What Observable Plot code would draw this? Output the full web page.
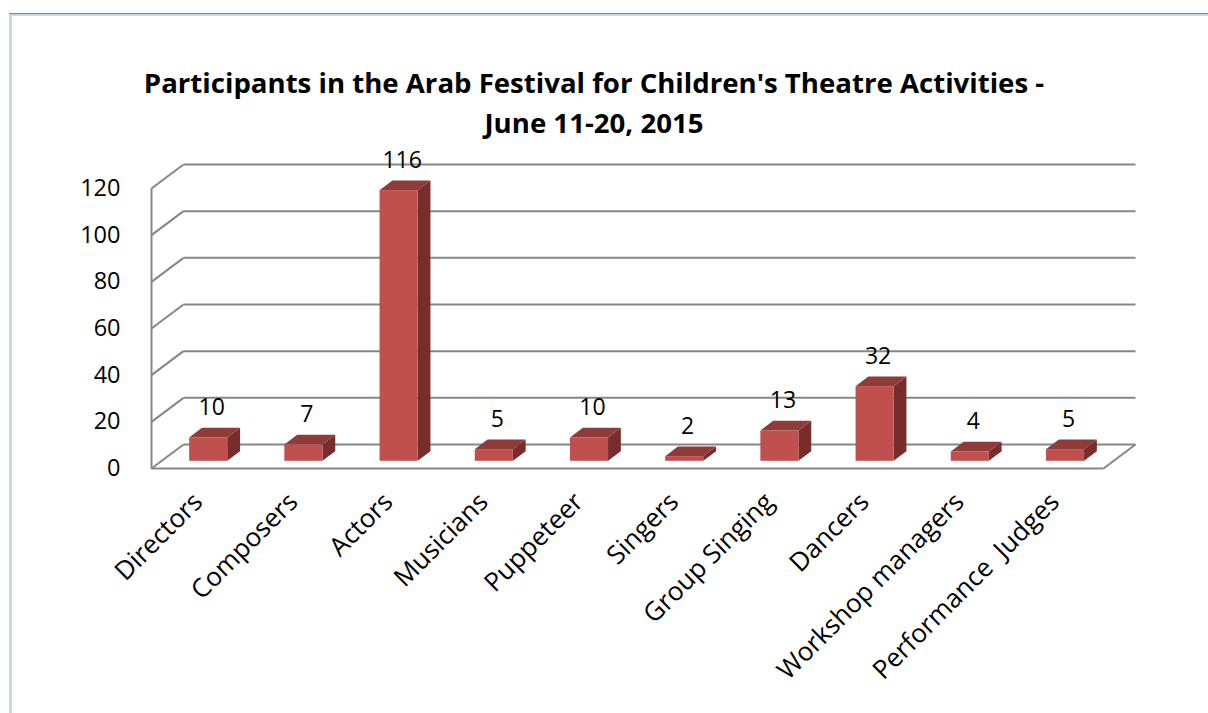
<!DOCTYPE html>
<html><head><meta charset="utf-8">
<script src="https://cdn.jsdelivr.net/npm/d3@7"></script>
<script src="https://cdn.jsdelivr.net/npm/@observablehq/plot@0.6"></script>
<style>
html,body{margin:0;padding:0;background:#fff;overflow:hidden;width:1208px;height:713px;}
#frame{position:absolute;left:9px;top:13px;width:1300px;height:800px;border-top:1px solid #858585;}
#inner{width:100%;height:100%;border-top:2px solid #c6dadd;border-left:3px solid #c6dadd;}
#title{position:absolute;left:0;top:62px;width:1188px;text-align:center;font-family:"Open Sans",sans-serif;font-weight:bold;font-size:27.6px;line-height:40px;color:#000;}
#chart{position:absolute;left:0;top:135px;}
svg text{white-space:pre;}
</style>
</head><body>
<div id="frame"><div id="inner"></div></div>
<div id="title">Participants in the Arab Festival for Children's Theatre Activities -<br>June 11-20, 2015</div>
<div id="chart"></div>
<script>
const categories = ["Directors","Composers","Actors","Musicians","Puppeteer","Singers","Group Singing","Dancers","Workshop managers","Performance  Judges"];
const participants = [10, 7, 116, 5, 10, 2, 13, 32, 4, 5];
const yTicks = [0, 20, 40, 60, 80, 100, 120];

const W = 1208, H = 578;
const mL = 151, mR = 105, mT = 53, mB = 245;
const xDom = [0, categories.length], yDom = [0, 120];
const PX = (W - mL - mR) / (xDom[1] - xDom[0]);
const PY = (H - mT - mB) / (yDom[1] - yDom[0]);
// oblique depth vector of the full chart depth, in pixels (right, up)
const DEPTH_PX = [32, 24];
const ddx = t => DEPTH_PX[0] * t / PX;
const ddy = t => DEPTH_PX[1] * t / PY;
const t1 = 0.3, t2 = 0.7;  // bar front/back depth fractions
const half = 0.2;          // half bar width in category units

const rows = categories.map((name, i) => ({name, value: participants[i], i}));

const frontFace = rows.map(d => ({name: d.name,
  x1: d.i + 0.5 - half + ddx(t1), x2: d.i + 0.5 + half + ddx(t1),
  y1: ddy(t1), y2: d.value + ddy(t1)}));
const sideFace = rows.flatMap(d => [t1, t2].map(t => ({name: d.name,
  x: d.i + 0.5 + half + ddx(t), y1: ddy(t), y2: d.value + ddy(t)})));
const topFace = rows.flatMap(d => [t1, t2].map(t => ({name: d.name,
  xa: d.i + 0.5 - half + ddx(t), xb: d.i + 0.5 + half + ddx(t), y: d.value + ddy(t)})));

const backGrid = yTicks.map(v => ({x1: xDom[0] + ddx(1), x2: xDom[1] + ddx(1), y1: v + ddy(1), y2: v + ddy(1)}));
const wallDiag = yTicks.map(v => ({x1: xDom[0], x2: xDom[0] + ddx(1), y1: v, y2: v + ddy(1)}));
const edges = [
  {x1: xDom[0], y1: yDom[0], x2: xDom[0], y2: yDom[1]},
  {x1: xDom[0], y1: 0, x2: xDom[1], y2: 0},
  {x1: xDom[1], y1: 0, x2: xDom[1] + ddx(1), y2: ddy(1)}
];
const gridStyle = {x1: "x1", y1: "y1", x2: "x2", y2: "y2", stroke: "#868686", strokeWidth: 2};

const plot = Plot.plot({
  width: W, height: H,
  marginLeft: mL, marginRight: mR, marginTop: mT, marginBottom: mB,
  x: {domain: xDom, axis: null},
  y: {domain: yDom, axis: null},
  style: {fontFamily: "'Open Sans', sans-serif", color: "#000", background: "transparent"},
  marks: [
    Plot.link(backGrid, gridStyle),
    Plot.link(wallDiag, gridStyle),
    Plot.link(edges, gridStyle),
    Plot.area(sideFace, {x1: "x", y1: "y1", y2: "y2", z: "name", fill: "#772d2b"}),
    Plot.area(topFace, {x1: "xa", x2: "xb", y1: "y", y2: "y", z: "name", fill: "#8f3b39"}),
    Plot.rect(frontFace, {x1: "x1", x2: "x2", y1: "y1", y2: "y2", fill: "#c0504d"}),
    Plot.text(rows, {x: d => d.i + 0.5 + ddx(t1), y: d => d.value + ddy(t1), text: d => String(d.value),
      dx: 3, dy: -30, fontSize: 23, fill: "#000"}),
    Plot.text(yTicks, {x: xDom[0], y: d => d, text: d => String(d), textAnchor: "end", dx: -31, fontSize: 23.5, fill: "#000"}),
    Plot.text(rows, {x: d => d.i + 0.5, y: 0, text: "name", rotate: -45, textAnchor: "end",
      dx: -1, dy: 29, fontSize: 26, fill: "#000"})
  ]
});
document.getElementById("chart").appendChild(plot);
</script>
</body></html>
